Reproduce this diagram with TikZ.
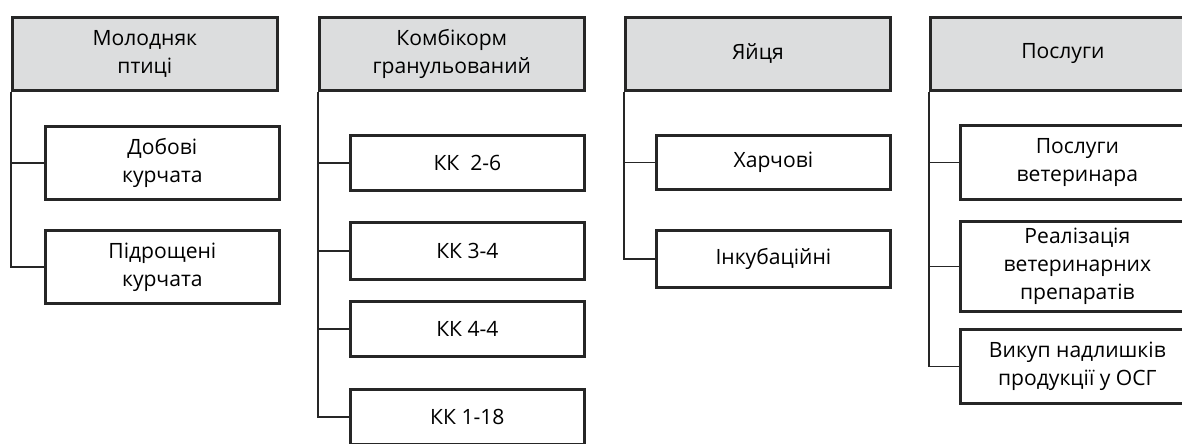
\documentclass[tikz,border=0pt]{standalone}
\usepackage{fontspec}
\setmainfont{Open Sans}
\usepackage{xcolor}
\usetikzlibrary{positioning, calc}

\definecolor{headgray}{RGB}{220,221,222}

\begin{document}
\begin{tikzpicture}[x=0.03cm, y=-0.03cm,
    headbox/.style={rectangle, draw=black!85, line width=2.3pt, fill=headgray, anchor=north west, inner sep=0pt, minimum width=7.95cm, minimum height=2.19cm, align=center, font=\fontsize{18}{23.8}\selectfont},
    itembox/.style={rectangle, draw=black!85, line width=2.3pt, fill=white, anchor=north west, inner sep=0pt, minimum width=7.02cm, align=center, font=\fontsize{18}{23.8}\selectfont},
    conn/.style={draw=black!85, line width=1.4pt}]
\clip (0,0) rectangle (1182,443);

% Молодняк птиці
\node[headbox] (mol) at (11,16) {Молодняк\\птиці};
\node[itembox, minimum height=2.19cm] (mol1) at (44,125) {Добові\\курчата};
\node[itembox, minimum height=2.19cm] (mol2) at (44,229) {Підрощені\\курчата};

\draw[conn] (mol.south west) |- (mol2.west);
\draw[conn] (mol.south west |- mol1.west) -- (mol1.west);

% Комбікорм гранульований
\node[headbox] (komb) at (318,16) {Комбікорм\\гранульований};
\node[itembox, minimum height=1.65cm] (komb1) at (349,134) {КК~~2-6};
\node[itembox, minimum height=1.71cm] (komb2) at (349,221) {КК 3-4};
\node[itembox, minimum height=1.65cm] (komb3) at (349,300) {КК 4-4};
\node[itembox, minimum height=1.65cm] (komb4) at (349,388) {КК 1-18};

\draw[conn] (komb.south west) |- (komb4.west);
\foreach \k in {komb1, komb2, komb3}
  \draw[conn] (komb.south west |- \k.west) -- (\k.west);

% Яйця
\node[headbox] (egg) at (624,16) {Яйця};
\node[itembox, minimum height=1.62cm] (egg1) at (655,134) {Харчові};
\node[itembox, minimum height=1.71cm] (egg2) at (655,229) {Інкубаційні};

\draw[conn] (egg.south west) |- (egg2.west);
\draw[conn] (egg.south west |- egg1.west) -- (egg1.west);

% Послуги
\node[headbox] (serv) at (929,16) {Послуги};
\node[itembox, minimum height=2.22cm] (serv1) at (959,124) {Послуги\\ветеринара};
\node[itembox, minimum height=2.7cm] (serv2) at (959,220) {Реалізація\\ветеринарних\\препаратів};
\node[itembox, minimum height=2.22cm] (serv3) at (959,328) {Викуп надлишків\\продукції у ОСГ};

\draw[conn] (serv.south west) |- (serv3.west);
\foreach \k in {serv1, serv2}
  \draw[conn] (serv.south west |- \k.west) -- (\k.west);
\end{tikzpicture}
\end{document}
